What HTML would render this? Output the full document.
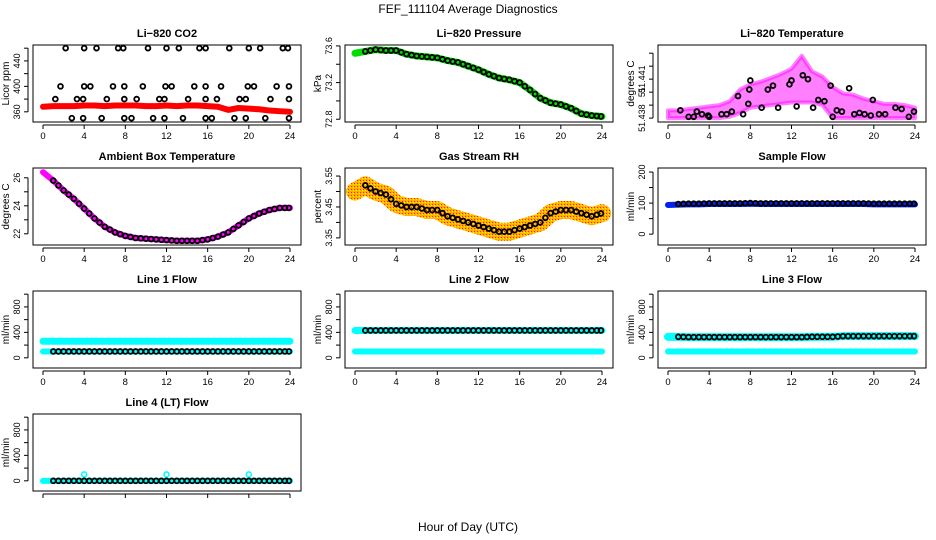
<!DOCTYPE html>
<html><head><meta charset="utf-8">
<style>
html,body{margin:0;padding:0;background:#fff;}
svg{display:block;font-family:"Liberation Sans",Arial,sans-serif;}
</style></head>
<body>
<svg id="c" width="936" height="540" viewBox="0 0 936 540" xmlns="http://www.w3.org/2000/svg">
<defs>
<pattern id="rhpat" width="3" height="3" patternUnits="userSpaceOnUse">
<rect width="3" height="3" fill="#ffb000"/><rect width="1" height="1" fill="#ff2000"/><rect x="2" y="1" width="1" height="1" fill="#ffff00"/>
</pattern>
</defs>
<text x="468" y="13" text-anchor="middle" font-size="12">FEF_111104  Average Diagnostics</text>
<text x="468" y="531" text-anchor="middle" font-size="12">Hour of Day (UTC)</text>
</svg>
<script>
// ---- data ----
const hours = [0,1,2,3,4,5,6,7,8,9,10,11,12,13,14,15,16,17,18,19,20,21,22,23,24];
const halfHours = [1,1.5,2,2.5,3,3.5,4,4.5,5,5.5,6,6.5,7,7.5,8,8.5,9,9.5,10,10.5,11,11.5,12,12.5,13,13.5,14,14.5,15,15.5,16,16.5,17,17.5,18,18.5,19,19.5,20,20.5,21,21.5,22,22.5,23,23.5,23.9];
const xTicks = [0,4,8,12,16,20,24];

const co2Red = [368,369,369,369,370,370,369,370,370,370,369,369,370,369,370,370,369,368,363,366,365,364,362,361,360];
const co2HiHours = [2.2,4,5.2,7.3,7.8,10.2,12,13.2,15.2,15.8,18.1,20,21.1,23.3,23.8];
const co2MidHours = [1.7,4,4.6,6.8,7.9,9.7,11.9,12.5,14.7,15.8,17.3,19.9,20.5,22.7,23.9];
const co2LowHours = [1.2,3.3,3.9,6.2,7.9,9.1,11.3,11.8,14.1,15.8,16.9,19.1,19.7,22.1,23.9];
const co2BotHours = [2.8,3.9,5.7,7.9,8.6,10.7,11.8,13.6,15.8,16.4,18.6,19.7,21.6,23.9];
const co2Levels = [460,400,380,350];

const pressure = [73.52,73.54,73.56,73.55,73.55,73.51,73.49,73.48,73.47,73.44,73.42,73.38,73.34,73.29,73.25,73.23,73.2,73.12,73.03,72.98,72.96,72.92,72.86,72.84,72.83];

const tempUpper = [51.4386,51.4386,51.4387,51.4388,51.4389,51.4390,51.4393,51.4402,51.4406,51.4408,51.4411,51.4414,51.4418,51.4428,51.4416,51.4412,51.4404,51.4399,51.4398,51.4395,51.4393,51.4391,51.4391,51.4390,51.4388];
const tempLower = [51.4380,51.4380,51.4380,51.4380,51.4380,51.4380,51.4381,51.4384,51.4388,51.4389,51.4390,51.4391,51.4392,51.4392,51.4392,51.4390,51.4380,51.4380,51.4380,51.4380,51.4380,51.4380,51.4380,51.4380,51.4380];
const tempPtHours = [1.2,2,2.5,2.8,3.3,3.9,4,5.2,5.7,6.2,6.8,7.3,7.8,7.9,8,9.1,9.7,10.2,10.7,11.8,12,12.5,13.1,13.6,14.1,14.6,15.2,15.8,16,16.4,16.9,17.6,18.1,18.6,19.1,19.7,19.9,20.5,21.1,22.1,22.7,23.4,23.9];
const tempPtVals = [51.4386,51.4381,51.4381,51.4385,51.4383,51.4382,51.4381,51.4383,51.4383,51.4385,51.4397,51.4383,51.4391,51.4402,51.4409,51.4388,51.4402,51.4405,51.4388,51.4406,51.4409,51.4389,51.4413,51.4410,51.4388,51.4394,51.4393,51.4405,51.4381,51.4386,51.4385,51.4403,51.4383,51.4384,51.4383,51.4382,51.4394,51.4383,51.4383,51.4388,51.4387,51.4381,51.4385];

const ambient = [26.4,25.8,25.1,24.5,23.8,23.1,22.5,22.1,21.85,21.7,21.65,21.6,21.55,21.5,21.5,21.5,21.6,21.8,22.1,22.6,23.1,23.45,23.7,23.85,23.85];
const rh = [3.50,3.52,3.50,3.49,3.46,3.45,3.45,3.44,3.44,3.42,3.41,3.40,3.39,3.38,3.37,3.37,3.38,3.39,3.40,3.43,3.44,3.44,3.43,3.42,3.43];

const sampleFlow = [94,95,96,96,97,97,97,97,98,97,97,97,97,97,97,97,97,97,97,97,96,96,96,96,96];
const line1Hi = [260,260,260,260,260,260,260,260,260,260,260,260,260,260,260,260,260,260,260,260,260,260,260,260,260];
const line1Lo = [100,100,100,100,100,100,100,100,100,100,100,100,100,100,100,100,100,100,100,100,100,100,100,100,100];
const line2Hi = [430,430,430,430,430,430,430,430,430,430,430,430,430,430,430,430,430,430,430,430,430,430,430,430,430];
const line2Lo = [100,100,100,100,100,100,100,100,100,100,100,100,100,100,100,100,100,100,100,100,100,100,100,100,100];
const line3Hi = [330,330,325,325,325,325,325,325,325,325,325,325,325,325,330,330,330,340,340,340,340,340,340,340,340];
const line3Lo = [100,100,100,100,100,100,100,100,100,100,100,100,100,100,100,100,100,100,100,100,100,100,100,100,100];
const line4 = [0,0,0,0,0,0,0,0,0,0,0,0,0,0,0,0,0,0,0,0,0,0,0,0,0];
const line4SpikeHours = [4,12,20];
const line4SpikeVals = [100,100,100];

// ---- helpers ----
const svg = document.getElementById('c');
const NS = 'http://www.w3.org/2000/svg';
function el(tag, attrs, parent) {
  const e = document.createElementNS(NS, tag);
  for (const k in attrs) e.setAttribute(k, attrs[k]);
  (parent || svg).appendChild(e);
  return e;
}
const colLeft = [33, 345, 658];
const rowTop = [45, 168, 291, 414];
const W = 268, H = 77;

function makePanel(name, col, row, title, ylab, vmin, vmax, yTicks, yLabels, showXLabels) {
  const L = colLeft[col], T = rowTop[row];
  const g = el('g', {});
  
  
  const x = h => L + 10 + h * (247 / 24);
  const y = v => T + H - (v - vmin) / (vmax - vmin) * H;
  const t = el('text', {x: L + W / 2, y: T - 8, 'text-anchor': 'middle', 'font-size': 11, 'font-weight': 'bold'}, g);
  t.textContent = title;
  
  
  const yl = el('text', {x: 0, y: 0, 'text-anchor': 'middle', 'font-size': 10, transform: `translate(${L - 24},${T + H / 2}) rotate(-90)`}, g);
  yl.textContent = ylab;
  
  
  const ya = el('g', {}, g);
  
  
  const yp = yTicks.map(y);
  el('line', {x1: L - 5, x2: L - 5, y1: Math.min(...yp), y2: Math.max(...yp), stroke: '#000'}, ya);
  yTicks.forEach((v, i) => {
    el('line', {x1: L - 9, x2: L - 5, y1: y(v), y2: y(v), stroke: '#000'}, ya);
    if (yLabels[i] !== '') {
      const tl = el('text', {x: 0, y: 0, 'text-anchor': 'middle', 'font-size': 9, transform: `translate(${L - 13},${y(v)}) rotate(-90)`}, ya);
      tl.textContent = yLabels[i];
    }
  });
  const xa = el('g', {}, g);
  
  
  el('line', {x1: x(0), x2: x(24), y1: T + H + 3, y2: T + H + 3, stroke: '#000'}, xa);
  xTicks.forEach(h => {
    el('line', {x1: x(h), x2: x(h), y1: T + H + 3, y2: T + H + 7, stroke: '#000'}, xa);
    if (showXLabels) {
      const tl = el('text', {x: x(h), y: T + H + 17, 'text-anchor': 'middle', 'font-size': 9.5}, xa);
      tl.textContent = h;
    }
  });
  const plot = el('g', {}, g);
  
  
  const clipId = 'clip-' + name;
  const cp = el('clipPath', {id: clipId}, g);
  el('rect', {x: L, y: T, width: W, height: H}, cp);
  plot.setAttribute('clip-path', `url(#${clipId})`);
  const box = el('rect', {x: L, y: T, width: W, height: H, fill: 'none', stroke: '#000'}, g);
  
  
  return {x, y, plot, g};
}
function band(p, name, xs, vals, color, width) {
  const pl = el('polyline', {points: xs.map((h, i) => p.x(h) + ',' + p.y(vals[i])).join(' '), fill: 'none', stroke: color, 'stroke-width': width, 'stroke-linejoin': 'round', 'stroke-linecap': 'round'}, p.plot);
  
  
}
function area(p, name, xs, hi, lo, fill, op) {
  const pts = xs.map((h, i) => p.x(h) + ',' + p.y(hi[i])).concat(xs.slice().reverse().map((h, j) => p.x(h) + ',' + p.y(lo[xs.length - 1 - j])));
  const pg = el('polygon', {points: pts.join(' '), fill: fill, 'fill-opacity': op, stroke: fill, 'stroke-opacity': op, 'stroke-width': 4, 'stroke-linejoin': 'round'}, p.plot);
  
  
}
function points(p, name, xs, vals, color, r, sw) {
  const gg = el('g', {}, p.plot);
  
  
  xs.forEach((h, i) => {
    const c = el('circle', {cx: p.x(h), cy: p.y(vals[i]), r: r || 2.4, fill: 'none', stroke: color || '#000', 'stroke-width': sw || 1.8}, gg);
    
    
  });
}
function atHalf(vals) {
  return halfHours.map(h => { const i = Math.floor(h), f = h - i; return i >= 24 ? vals[24] : vals[i] * (1 - f) + vals[i + 1] * f; });
}
function constArr(xs, v) { return xs.map(() => v); }

let p = makePanel('co2-panel', 0, 0, 'Li\u2212820 CO2', 'Licor ppm', 344, 465, [360, 380, 400, 420, 440, 460], ['360', '', '400', '', '440', ''], true);
band(p, 'co2-red-series', hours, co2Red, '#ff0000', 6);
points(p, 'co2-black-460', co2HiHours, constArr(co2HiHours, co2Levels[0]));
points(p, 'co2-black-400', co2MidHours, constArr(co2MidHours, co2Levels[1]));
points(p, 'co2-black-380', co2LowHours, constArr(co2LowHours, co2Levels[2]));
points(p, 'co2-black-350', co2BotHours, constArr(co2BotHours, co2Levels[3]));

p = makePanel('pressure-panel', 1, 0, 'Li\u2212820 Pressure', 'kPa', 72.77, 73.61, [72.8, 73.0, 73.2, 73.4, 73.6], ['72.8', '', '73.2', '', '73.6'], true);
band(p, 'pressure-green-series', hours, pressure, '#00dd00', 7);
points(p, 'pressure-black-points', halfHours, atHalf(pressure));

p = makePanel('li820-temp-panel', 2, 0, 'Li\u2212820 Temperature', 'degrees C', 51.4377, 51.44363, [51.438, 51.439, 51.440, 51.441, 51.442, 51.443], ['51.438', '', '51', '51.441', '', ''], true);
area(p, 'li820-temp-magenta-cloud', hours, tempUpper, tempLower, '#ff00ff', 0.5);
points(p, 'li820-temp-black-points', tempPtHours, tempPtVals);

p = makePanel('ambient-temp-panel', 0, 1, 'Ambient Box Temperature', 'degrees C', 21.2, 26.7, [22, 23, 24, 25, 26], ['22', '', '24', '', '26'], true);
band(p, 'ambient-magenta-series', hours, ambient, '#ff00ff', 6);
points(p, 'ambient-black-points', halfHours, atHalf(ambient));

p = makePanel('rh-panel', 1, 1, 'Gas Stream RH', 'percent', 3.327, 3.576, [3.35, 3.40, 3.45, 3.50, 3.55], ['3.35', '', '3.45', '', '3.55'], true);
band(p, 'rh-orange-series', hours, rh, 'url(#rhpat)', 18);
points(p, 'rh-black-points', halfHours, atHalf(rh));

p = makePanel('sample-flow-panel', 2, 1, 'Sample Flow', 'ml/min', -35, 213, [0, 50, 100, 150, 200], ['0', '', '100', '', '200'], true);
band(p, 'sample-flow-blue-series', hours, sampleFlow, '#0022ee', 6);
points(p, 'sample-flow-black-points', halfHours, atHalf(sampleFlow).map(v => v + 2));

const flowTicks = [0, 200, 400, 600, 800, 1000], flowLabels = ['0', '', '400', '', '800', ''];
p = makePanel('line1-flow-panel', 0, 2, 'Line 1 Flow', 'ml/min', -160, 1050, flowTicks, flowLabels, true);
band(p, 'line1-cyan-high', hours, line1Hi, '#00ffff', 7);
band(p, 'line1-cyan-low', hours, line1Lo, '#00ffff', 6);
points(p, 'line1-black-points', halfHours, atHalf(line1Lo));
p = makePanel('line2-flow-panel', 1, 2, 'Line 2 Flow', 'ml/min', -160, 1050, flowTicks, flowLabels, true);
band(p, 'line2-cyan-high', hours, line2Hi, '#00ffff', 7);
band(p, 'line2-cyan-low', hours, line2Lo, '#00ffff', 6);
points(p, 'line2-black-points', halfHours, atHalf(line2Hi));
p = makePanel('line3-flow-panel', 2, 2, 'Line 3 Flow', 'ml/min', -160, 1050, flowTicks, flowLabels, true);
band(p, 'line3-cyan-high', hours, line3Hi, '#00ffff', 8);
band(p, 'line3-cyan-low', hours, line3Lo, '#00ffff', 6);
points(p, 'line3-black-points', halfHours, atHalf(line3Hi));
p = makePanel('line4-flow-panel', 0, 3, 'Line 4 (LT) Flow', 'ml/min', -160, 1050, flowTicks, flowLabels, false);
band(p, 'line4-cyan-series', hours, line4, '#00ffff', 6);
points(p, 'line4-cyan-spikes', line4SpikeHours, line4SpikeVals, '#00ffff', 2.5, 1.6);
points(p, 'line4-black-points', halfHours, atHalf(line4));
</script>
</body></html>
